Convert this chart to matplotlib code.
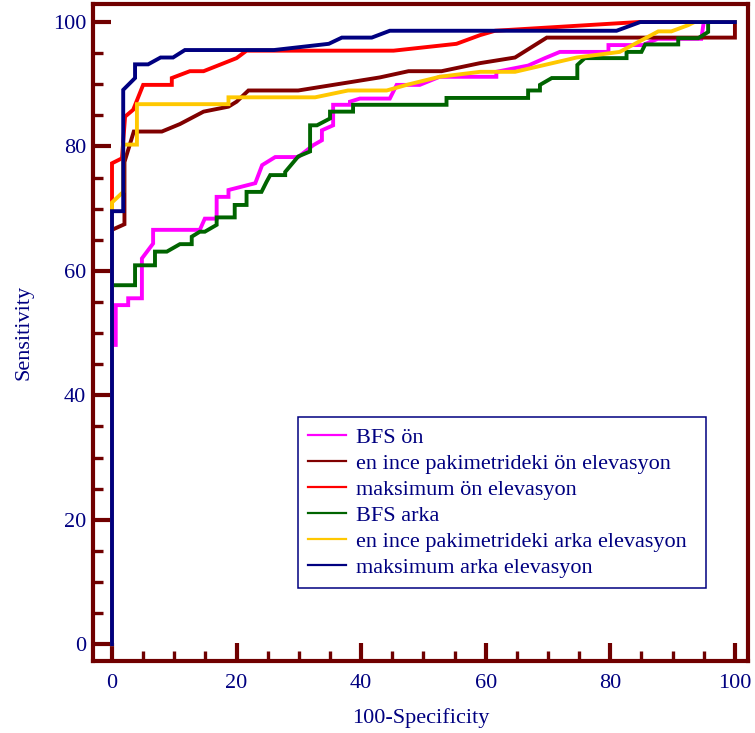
import matplotlib
matplotlib.use("Agg")
import matplotlib.pyplot as plt
from matplotlib.lines import Line2D
from matplotlib.ticker import MultipleLocator

plt.rcParams["font.family"] = ["Liberation Serif", "DejaVu Serif"]

labels = [
    "BFS ön",
    "en ince pakimetrideki ön elevasyon",
    "maksimum ön elevasyon",
    "BFS arka",
    "en ince pakimetrideki arka elevasyon",
    "maksimum arka elevasyon",
]
colors = ["#FF00FF", "#800000", "#FF0000", "#006400", "#FFC800", "#000080"]

# ROC points (100-Specificity, Sensitivity)
bfs_on_x = [0, 0, 0.6, 0.6, 2.6, 2.6, 4.8, 4.8, 6.6, 6.6, 14.1, 14.9, 16.8, 16.8, 18.7, 18.7,
            23, 24.1, 26.2, 29.9, 32.3, 33.7, 33.7, 35.5, 35.5, 38.2, 38.2, 39.8, 44.6, 45.7,
            49.4, 52.6, 61.7, 61.7, 66.8, 69.5, 71.9, 79.7, 79.7, 85.2, 87.6, 94.6, 95, 100]
bfs_on_y = [0, 48.1, 48.1, 54.5, 54.5, 55.6, 55.6, 62, 64.4, 66.6, 66.6, 68.4, 68.4, 71.9, 71.9, 73,
            74.1, 77, 78.3, 78.3, 80.2, 81, 82.6, 83.4, 86.7, 86.7, 87.2, 87.7, 87.7, 89.9,
            89.9, 91.2, 91.2, 92, 93, 94.2, 95.2, 95.2, 96.3, 96.3, 97.3, 97.3, 100, 100]

ince_on_x = [0, 0, 2, 2, 3.5, 8, 10.9, 14.7, 18.7, 20, 21.9, 29.9, 43, 47.6, 52.9, 59.1,
             64.7, 69.8, 100, 100]
ince_on_y = [0, 66.6, 67.5, 77.5, 82.4, 82.4, 83.6, 85.6, 86.4, 87.2, 89, 89, 91.1, 92.1, 92.1, 93.4,
             94.3, 97.5, 97.5, 100]

maks_on_x = [0, 0, 1.6, 2.1, 3.4, 5.0, 9.6, 9.6, 12.5, 14.7, 20, 21.6, 45.2, 55.3, 59.1, 61.5,
             84.5, 100]
maks_on_y = [0, 77.3, 78.1, 84.8, 85.9, 89.9, 89.9, 91.0, 92.1, 92.1, 94.2, 95.4, 95.4, 96.5, 97.9, 98.6,
             100, 100]

bfs_arka_x = [0, 0, 3.7, 3.7, 6.9, 6.9, 8.8, 10.9, 12.8, 12.8, 14.1, 14.9, 16.8, 16.8, 19.7, 19.7,
              21.6, 21.6, 24, 24.8, 25.4, 27.8, 27.8, 29.9, 31.8, 31.8, 32.9, 35, 35, 38.7, 38.7,
              53.7, 53.7, 66.8, 66.8, 68.7, 68.7, 70.6, 74.7, 74.7, 75.9, 82.6, 82.6, 85.0, 85.6,
              90.9, 90.9, 94.1, 95.7, 95.7, 100]
bfs_arka_y = [0, 57.7, 57.7, 60.9, 60.9, 63.1, 63.1, 64.3, 64.3, 65.5, 66.3, 66.3, 67.4, 68.6, 68.6, 70.6,
              70.6, 72.7, 72.7, 74.3, 75.4, 75.4, 75.9, 78.4, 79.2, 83.4, 83.4, 84.5, 85.6, 85.6, 86.7,
              86.7, 87.8, 87.8, 89.0, 89.0, 89.9, 91.0, 91.0, 93.1, 94.2, 94.2, 95.2, 95.2, 96.4,
              96.4, 97.4, 97.4, 98.4, 100, 100]

ince_arka_x = [0, 0, 1.8, 1.8, 4, 4, 18.7, 18.7, 32.6, 37.9, 44.1, 47.3, 52.6, 59.1, 64.7,
               74.6, 81.5, 87.7, 89.8, 92.5, 93.5, 100]
ince_arka_y = [0, 71, 72.7, 80.3, 80.3, 86.8, 86.8, 87.9, 87.9, 89, 89, 89.9, 91.2, 92, 92,
               94.3, 95.2, 98.5, 98.5, 99.5, 100, 100]

maks_arka_x = [0, 0, 1.8, 1.8, 3.7, 3.7, 5.8, 7.8, 9.8, 11.7, 26, 34.8, 36.9, 41.7, 44.6, 81,
               84.8, 100]
maks_arka_y = [0, 69.6, 69.6, 89.1, 91, 93.2, 93.2, 94.3, 94.3, 95.5, 95.5, 96.5, 97.5, 97.5, 98.6, 98.6,
               100, 100]

curves = [
    (bfs_on_x, bfs_on_y),
    (ince_on_x, ince_on_y),
    (maks_on_x, maks_on_y),
    (bfs_arka_x, bfs_arka_y),
    (ince_arka_x, ince_arka_y),
    (maks_arka_x, maks_arka_y),
]

frame = "#700000"
txt = "#000080"


def main():
    fig = plt.figure(figsize=(7.55, 7.33), dpi=100)
    ax = fig.add_axes([93 / 755, 72 / 733, 655 / 755, 657 / 733])

    for (xs, ys), c in zip(curves, colors):
        ax.plot(xs, ys, color=c, lw=2.8, solid_joinstyle="miter", clip_on=False)

    ax.set_xlim(-3.05, 102.1)
    ax.set_ylim(-2.7, 102.9)

    for s in ax.spines.values():
        s.set_color(frame)
        s.set_linewidth(3)

    ax.xaxis.set_major_locator(MultipleLocator(20))
    ax.xaxis.set_minor_locator(MultipleLocator(5))
    ax.yaxis.set_major_locator(MultipleLocator(20))
    ax.yaxis.set_minor_locator(MultipleLocator(5))
    ax.set_xticks(range(0, 101, 20))
    ax.set_yticks(range(0, 101, 20))
    ax.tick_params(which="major", direction="in", length=13, width=3, color=frame,
                   labelsize=16, labelcolor=txt)
    ax.tick_params(which="minor", direction="in", length=7, width=2.4, color=frame)
    ax.tick_params(axis="x", which="major", pad=9)
    ax.tick_params(axis="y", which="major", pad=5)

    ax.set_xlabel("100-Specificity", fontsize=16, color=txt, labelpad=11)
    ax.set_ylabel("Sensitivity", fontsize=16, color=txt, labelpad=14)

    handles = [Line2D([], [], color=c, lw=1.6) for c in colors]
    leg = ax.legend(handles, labels, loc="upper left",
                    bbox_to_anchor=(0.313, 0.3714, 0.6229, 0), mode="expand",
                    borderaxespad=0, fontsize=16, labelcolor=txt, frameon=True,
                    fancybox=False, framealpha=1, edgecolor=txt, handlelength=1.7,
                    handletextpad=0.45, labelspacing=0.25, borderpad=0.45)
    leg.get_frame().set_linewidth(1.1)

    fig.savefig("out.png", dpi=100)


if __name__ == "__main__":
    main()
